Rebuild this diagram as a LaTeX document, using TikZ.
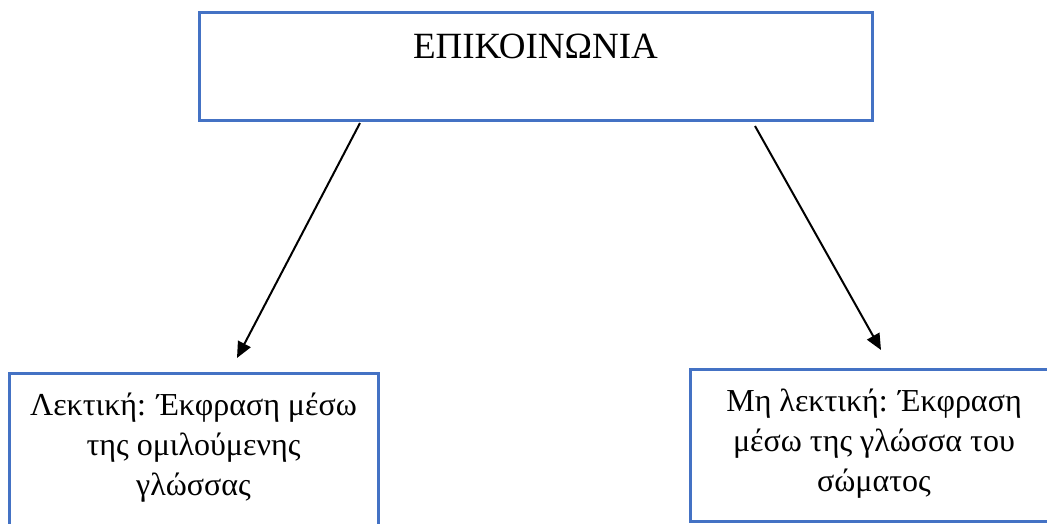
\documentclass[tikz,border=0pt]{standalone}
\usepackage{fontspec}
\setmainfont{Liberation Serif}
\usetikzlibrary{arrows.meta}
\definecolor{boxblue}{HTML}{4472C4}
\begin{document}
\begin{tikzpicture}[x=1pt,y=-1pt,
  boxstyle/.style={draw=boxblue, line width=3pt, rectangle, inner sep=0pt, outer sep=0pt, anchor=north west},
  toptxt/.style={font=\fontsize{37}{40}\selectfont, inner sep=0pt, anchor=base},
  subtxt/.style={font=\fontsize{32}{40}\selectfont, align=center, inner sep=0pt, anchor=center},
  arr/.style={line width=2pt, -{Triangle[length=16pt,width=14pt]}}]
\clip (0,0) rectangle (1047,523);
\fill[white] (0,0) rectangle (1047,523);
% boxes
\node[boxstyle, minimum width=673pt, minimum height=108pt] (top) at (199,12) {};
\node[boxstyle, minimum width=369pt, minimum height=180pt] (left) at (9,373) {};
\node[boxstyle, minimum width=368pt, minimum height=152pt] (right) at (690,369) {};
% texts
\node[toptxt] (toplabel) at (535.5,58) {ΕΠΙΚΟΙΝΩΝΙΑ};
\node[subtxt] (leftlabel) at (193.5,448) {Λεκτική: Έκφραση μέσω\\της ομιλούμενης\\γλώσσας};
\node[subtxt] (rightlabel) at (874,444) {Μη λεκτική: Έκφραση\\μέσω της γλώσσα του\\σώματος};
% arrows
\coordinate (l0) at (360,123);
\coordinate (l1) at (237,358);
\coordinate (r0) at (755,126);
\coordinate (r1) at (881,350);
\draw[arr] (l0) -- (l1);
\draw[arr] (r0) -- (r1);
\end{tikzpicture}
\end{document}
